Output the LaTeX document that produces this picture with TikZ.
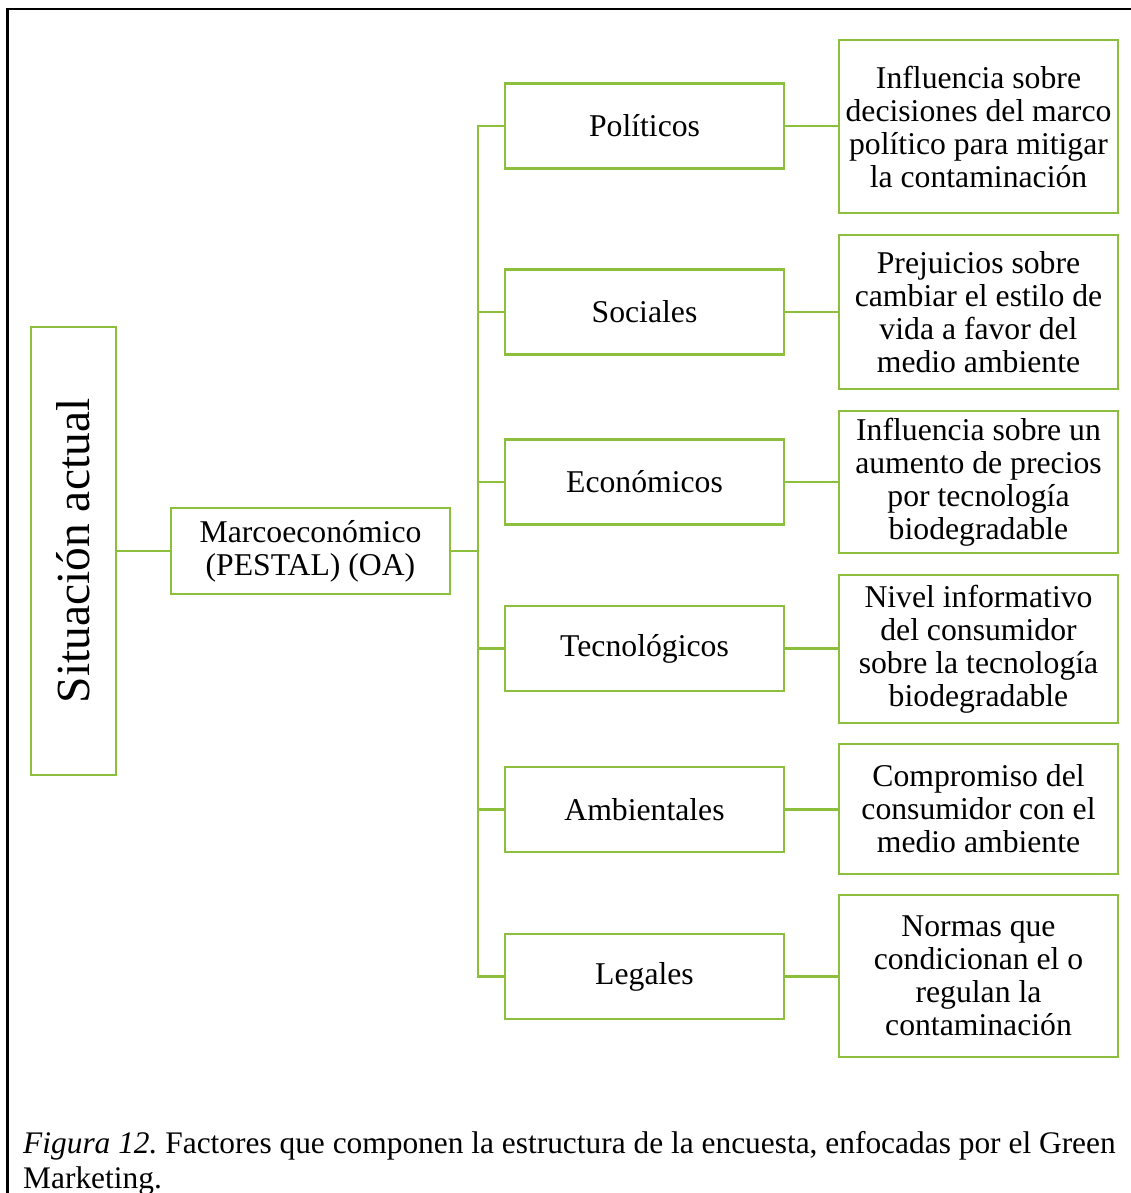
\documentclass[tikz,border=0pt]{standalone}
\usepackage{fontspec}
\setmainfont{Liberation Serif}
\definecolor{leaf}{RGB}{140,192,60}
\begin{document}
\begin{tikzpicture}[x=1pt,y=-1pt,
  every node/.style={inner sep=0pt,font=\fontsize{31.7}{33}\selectfont,align=center},
  gbox/.style={draw=leaf,line width=2.8pt,fill=white},
  factor/.style={gbox,minimum width=279pt,minimum height=85pt},
  link/.style={draw=leaf,line width=2.8pt}]
\useasboundingbox (0,0) rectangle (1131,1193);
% frame around the figure (open to the right and bottom)
\draw[line width=2.5pt] (1140,9) -- (7.5,9) -- (7.5,1200);

% root and first level
\node[gbox,minimum width=85pt,minimum height=448pt] (sit) at (73.5,551)
  {\rotatebox{90}{\fontsize{47.5}{50}\selectfont Situación actual}};
\node[gbox,minimum width=279pt,minimum height=86pt] (mac) at (310.5,551)
  {Marcoeconómico\\(PESTAL) (OA)};
\coordinate (trunk) at (478,551);

% PESTAL factors
\node[factor] (pol) at (644.5,126) {Políticos};
\node[factor] (soc) at (644.5,312) {Sociales};
\node[factor] (eco) at (644.5,482) {Económicos};
\node[factor] (tec) at (644.5,648.5) {Tecnológicos};
\node[factor] (amb) at (644.5,809.5) {Ambientales};
\node[factor] (leg) at (644.5,976.5) {Legales};

% descriptions
\node[gbox,minimum width=279pt,minimum height=173pt] (dpol) at (978.5,126.5)
  {Influencia sobre\\decisiones del marco\\político para mitigar\\la contaminación};
\node[gbox,minimum width=279pt,minimum height=154pt] (dsoc) at (978.5,312)
  {Prejuicios sobre\\cambiar el estilo de\\vida a favor del\\medio ambiente};
\node[gbox,minimum width=279pt,minimum height=142pt] (deco) at (978.5,482)
  {Influencia sobre un\\aumento de precios\\por tecnología\\biodegradable};
\node[gbox,minimum width=279pt,minimum height=148pt] (dtec) at (978.5,649)
  {Nivel informativo\\del consumidor\\sobre la tecnología\\biodegradable};
\node[gbox,minimum width=279pt,minimum height=130pt] (damb) at (978.5,809)
  {Compromiso del\\consumidor con el\\medio ambiente};
\node[gbox,minimum width=279pt,minimum height=162pt] (dleg) at (978.5,976)
  {Normas que\\condicionan el o\\regulan la\\contaminación};

% connectors
\draw[link] (sit.east) -- (mac.west);
\draw[link] (mac.east) -- (trunk);
\foreach \f in {pol,soc,eco,tec,amb,leg}{
  \draw[link] (trunk) |- (\f.west);
  \draw[link] (\f.east) -- (\f.east -| d\f.west);
}

% caption
\node[anchor=north west,align=left,font=\fontsize{31.4}{35}\selectfont] (cap) at (23,1131)
  {\textit{Figura 12.}\ Factores que componen la estructura de la encuesta, enfocadas por el Green\\Marketing.};
\end{tikzpicture}
\end{document}
